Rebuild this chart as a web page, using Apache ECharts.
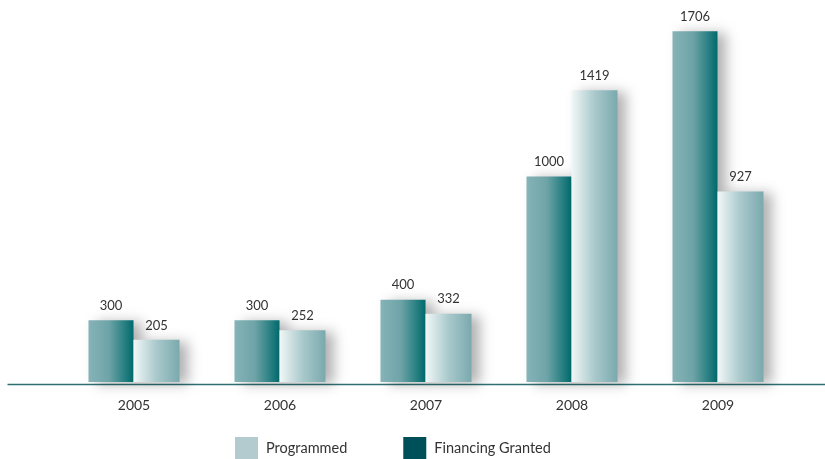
<!DOCTYPE html>
<html>
<head>
<meta charset="utf-8">
<script src="https://cdn.jsdelivr.net/npm/echarts@6/dist/echarts.min.js"></script>
<style>
  html, body { margin: 0; padding: 0; background: #fff; }
  #main { width: 825px; height: 459px; }
</style>
</head>
<body>
<div id="main"></div>
<script>
const years = ['2005', '2006', '2007', '2008', '2009']
const financingGranted = [300, 300, 400, 1000, 1706]
const programmed = [205, 252, 332, 1419, 927]

const chart = echarts.init(document.getElementById('main'))

// gradient fills, left to right
const darkFill = new echarts.graphic.LinearGradient(0, 0, 1, 0, [
  { offset: 0, color: '#86b3b7' },
  { offset: 0.45, color: '#6ea4a8' },
  { offset: 1, color: '#006a6c' }
])
const lightFill = new echarts.graphic.LinearGradient(0, 0, 1, 0, [
  { offset: 0, color: '#f2f7f7' },
  { offset: 0.5, color: '#a9c9cc' },
  { offset: 1, color: '#7aa9ad' }
])

const labelStyle = {
  show: true,
  position: 'top',
  distance: 8,
  color: '#333',
  fontFamily: 'Lato',
  fontSize: 13
}

const option = {
  animation: false,
  grid: { left: 61, right: 34, top: 12, bottom: 77 },
  legend: {
    left: 230,
    top: 432,
    itemWidth: 23,
    itemHeight: 23,
    itemGap: 56,
    icon: 'rect',
    textStyle: { fontFamily: 'Lato', fontSize: 14.5, color: '#333', padding: [0, 0, 0, 3] },
    data: [
      { name: 'Programmed', itemStyle: { color: '#b3cbcf' } },
      { name: 'Financing Granted', itemStyle: { color: '#00505a' } }
    ]
  },
  xAxis: {
    type: 'category',
    data: years,
    axisLine: { show: false },
    axisTick: { show: false },
    axisLabel: { margin: 16, color: '#333', fontFamily: 'Lato', fontSize: 14 }
  },
  yAxis: {
    type: 'value',
    min: 0,
    max: 1800,
    show: false
  },
  graphic: [
    {
      type: 'line',
      left: 5,
      top: 382,
      shape: { x1: 0, y1: 0, x2: 820, y2: 0 },
      style: { stroke: '#2f6f74', lineWidth: 1.5 }
    }
  ],
  series: [
    {
      name: 'Financing Granted',
      type: 'bar',
      data: financingGranted,
      barWidth: 45,
      barGap: '0%',
      itemStyle: {
        color: darkFill,
        shadowBlur: 12,
        shadowOffsetX: 8,
        shadowOffsetY: 2,
        shadowColor: 'rgba(0,0,0,0.3)'
      },
      label: labelStyle
    },
    {
      name: 'Programmed',
      type: 'bar',
      data: programmed,
      barWidth: 46,
      itemStyle: {
        color: lightFill,
        shadowBlur: 12,
        shadowOffsetX: 8,
        shadowOffsetY: 2,
        shadowColor: 'rgba(0,0,0,0.3)'
      },
      label: labelStyle
    }
  ]
}

chart.setOption(option)
</script>
</body>
</html>
